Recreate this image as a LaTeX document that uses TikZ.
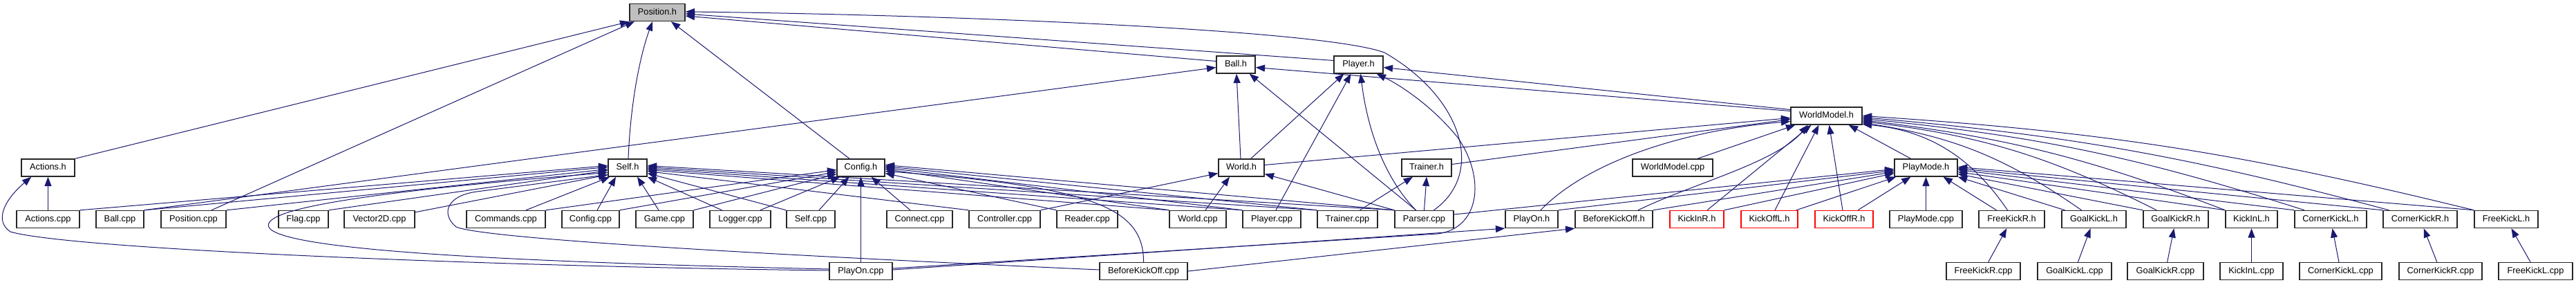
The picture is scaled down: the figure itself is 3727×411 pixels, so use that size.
\documentclass[tikz,border=0pt]{standalone}
\usepackage{fontspec}
\setmainfont{Liberation Sans}
\usetikzlibrary{arrows.meta,calc}
\definecolor{edgec}{HTML}{191970}
\definecolor{posgray}{HTML}{BFBFBF}
\definecolor{boxline}{HTML}{262626}
\begin{document}
\begin{tikzpicture}[x=0.75pt,y=-0.75pt,
  nb/.style={draw=boxline, line width=1.05pt, fill=white, minimum height=18.75pt, inner sep=0pt,
    font=\fontsize{9.6pt}{11pt}\selectfont, text height=7pt, text depth=2pt},
  rn/.style={nb, draw=red},
  bw/.style={minimum width=#1*0.75pt},
  e/.style={draw=edgec, line width=0.75pt, -{Triangle[length=10pt,width=7.5pt]}},
]
\path[use as bounding box] (0,0) rectangle (3727,411);

% Row A
\node[nb,bw=80,fill=posgray] (posh) at (951,18) {Position.h};
% Row B
\node[nb,bw=56] (ballh) at (1788,93.5) {Ball.h};
\node[nb,bw=71] (playerh) at (1965.5,93.5) {Player.h};
% Row C
\node[nb,bw=103] (wmh) at (2642.5,167.5) {WorldModel.h};
% Row D
\node[nb,bw=77] (actionsh) at (69.5,242.5) {Actions.h};
\node[nb,bw=56] (selfh) at (908,242.5) {Self.h};
\node[nb,bw=69] (configh) at (1245.5,242.5) {Config.h};
\node[nb,bw=66] (worldh) at (1796,242.5) {World.h};
\node[nb,bw=72] (trainerh) at (2064,242.5) {Trainer.h};
\node[nb,bw=116] (wmcpp) at (2420,242.5) {WorldModel.cpp};
\node[nb,bw=91] (pmh) at (2786.5,242.5) {PlayMode.h};
% Row E
\node[nb,bw=91] (actionscpp) at (69.5,317) {Actions.cpp};
\node[nb,bw=69] (ballcpp) at (173.5,317) {Ball.cpp};
\node[nb,bw=94] (poscpp) at (280,317) {Position.cpp};
\node[nb,bw=72] (flagcpp) at (439,317) {Flag.cpp};
\node[nb,bw=102] (vectorcpp) at (549,317) {Vector2D.cpp};
\node[nb,bw=114] (commandscpp) at (732,317) {Commands.cpp};
\node[nb,bw=83] (configcpp) at (854.5,317) {Config.cpp};
\node[nb,bw=83] (gamecpp) at (961.5,317) {Game.cpp};
\node[nb,bw=88] (loggercpp) at (1071,317) {Logger.cpp};
\node[nb,bw=70] (selfcpp) at (1173,317) {Self.cpp};
\node[nb,bw=95] (connectcpp) at (1330.5,317) {Connect.cpp};
\node[nb,bw=103] (controllercpp) at (1453.5,317) {Controller.cpp};
\node[nb,bw=88] (readercpp) at (1573,317) {Reader.cpp};
\node[nb,bw=82] (worldcpp) at (1733,317) {World.cpp};
\node[nb,bw=84] (playercpp) at (1840,317) {Player.cpp};
\node[nb,bw=87] (trainercpp) at (1949.5,317) {Trainer.cpp};
\node[nb,bw=85] (parsercpp) at (2060.5,317) {Parser.cpp};
\node[nb,bw=76] (playonh) at (2216,317) {PlayOn.h};
\node[nb,bw=112] (bkoh) at (2335,317) {BeforeKickOff.h};
\node[rn,bw=78] (kickinrh) at (2455,317) {KickInR.h};
\node[rn,bw=82] (kickofflh) at (2560,317) {KickOffL.h};
\node[rn,bw=84] (kickoffrh) at (2668,317) {KickOffR.h};
\node[nb,bw=105] (pmcpp) at (2786.5,317) {PlayMode.cpp};
\node[nb,bw=95] (fkrh) at (2910.5,317) {FreeKickR.h};
\node[nb,bw=93] (gklh) at (3029.5,317) {GoalKickL.h};
\node[nb,bw=94] (gkrh) at (3148,317) {GoalKickR.h};
\node[nb,bw=75] (kickinlh) at (3257.5,317) {KickInL.h};
\node[nb,bw=104] (cklh) at (3372,317) {CornerKickL.h};
\node[nb,bw=107] (ckrh) at (3501.5,317) {CornerKickR.h};
\node[nb,bw=92] (fklh) at (3626,317) {FreeKickL.h};
% Row F
\node[nb,bw=91] (playoncpp) at (1245.5,392) {PlayOn.cpp};
\node[nb,bw=127] (bkocpp) at (1654.5,392) {BeforeKickOff.cpp};
\node[nb,bw=107] (fkrcpp) at (2869.5,392) {FreeKickR.cpp};
\node[nb,bw=107] (gklcpp) at (3001.5,392) {GoalKickL.cpp};
\node[nb,bw=110] (gkrcpp) at (3133,392) {GoalKickR.cpp};
\node[nb,bw=91] (kickinlcpp) at (3257.5,392) {KickInL.cpp};
\node[nb,bw=119] (cklcpp) at (3386.5,392) {CornerKickL.cpp};
\node[nb,bw=120] (ckrcpp) at (3531,392) {CornerKickR.cpp};
\node[nb,bw=107] (fklcpp) at (3668.5,392) {FreeKickL.cpp};

% ---- into Position.h
\draw[e] (actionsh.north east) -- (posh.south west);
\draw[e] ($(poscpp.north)+(26,0)$) -- ($(posh.south)+(-33,0)$);
\draw[e] ($(selfh.north)+(1,0)$) .. controls (912,150) and (926,80) .. ($(posh.south)+(-7,0)$);
\draw[e] ($(configh.north)+(-16.5,0)$) -- ($(posh.south)+(20,0)$);
\draw[e] ($(ballh.west)+(0,-5)$) -- ($(posh.east)+(0,5)$);
\draw[e] ($(playerh.west)+(0,-6)$) -- ($(posh.east)+(0,2)$);
\draw[e] ($(parsercpp.north)+(14,0)$) .. controls (2150,250) and (2115,140) .. (2003,76) .. controls (1905,40) and (1300,20) .. ($(posh.east)+(0,-1)$);

% ---- into Ball.h
\draw[e] (ballcpp.north east) -- ($(ballh.west)+(0,4)$);
\draw[e] ($(worldh.north)+(-1,0)$) -- ($(ballh.south)+(1,0)$);
\draw[e] ($(parsercpp.north)+(-12,0)$) -- ($(ballh.south east)+(-9,0)$);
\draw[e] ($(wmh.west)+(0,-7)$) -- ($(ballh.east)+(0,4)$);

% ---- into Player.h
\draw[e] ($(wmh.west)+(0,-9)$) -- ($(playerh.east)+(0,4)$);
\draw[e] ($(worldh.north east)+(-20,0)$) -- ($(playerh.south)+(-21,0)$);
\draw[e] ($(playercpp.north)+(6,0)$) -- ($(playerh.south)+(-11,0)$);
\draw[e] ($(parsercpp.north)+(-12,0)$) .. controls (2010,265) and (1980,200) .. ($(playerh.south)+(3,0)$);
\draw[e] ($(playoncpp.east)+(0,-4)$) -- (2080,338) .. controls (2140,330) and (2150,260) .. (2110,200) .. controls (2070,150) and (2020,120) .. ($(playerh.south east)+(-10,0)$);

% ---- into WorldModel.h
\draw[e] ($(worldh.east)+(0,-4)$) -- ($(wmh.west)+(0,3)$);
\draw[e] ($(trainerh.east)+(0,-5)$) -- ($(wmh.west)+(0,5)$);
\draw[e] ($(playonh.north)+(13,0)$) .. controls (2290,240) and (2420,190) .. ($(wmh.west)+(0,8)$);
\draw[e] ($(wmcpp.north)+(36,0)$) -- ($(wmh.south west)+(7,0)$);
\draw[e] ($(bkoh.north)+(35,0)$) .. controls (2450,265) and (2570,235) .. ($(wmh.south)+(-27,0)$);
\draw[e] ($(kickinrh.north)+(15,0)$) -- ($(wmh.south)+(-22,0)$);
\draw[e] ($(kickofflh.north)+(8,0)$) -- ($(wmh.south)+(-11,0)$);
\draw[e] ($(kickoffrh.north)+(-2,0)$) -- ($(wmh.south)+(4,0)$);
\draw[e] ($(pmh.north)+(-22,0)$) -- ($(wmh.south east)+(-20,0)$);
\draw[e] ($(fkrh.north)+(-6,0)$) to[bend right=25] ($(wmh.east)+(0,12)$);
\draw[e] ($(gklh.north)+(-18,0)$) to[bend right=13] ($(wmh.east)+(0,10)$);
\draw[e] ($(gkrh.north)+(-28,0)$) to[bend right=10] ($(wmh.east)+(0,8)$);
\draw[e] (kickinlh.north west) to[bend right=7] ($(wmh.east)+(0,6)$);
\draw[e] ($(cklh.north)+(-38,0)$) to[bend right=6] ($(wmh.east)+(0,4)$);
\draw[e] ($(ckrh.north)+(-45,0)$) to[bend right=5] ($(wmh.east)+(0,2)$);
\draw[e] (fklh.north west) to[bend right=5] ($(wmh.east)+(0,0)$);

% ---- into PlayMode.h
\draw[e] ($(parsercpp.east)+(0,-7)$) -- ($(pmh.west)+(0,2)$);
\draw[e] (playonh.north east) -- ($(pmh.west)+(0,4)$);
\draw[e] (bkoh.north east) -- ($(pmh.west)+(0,6)$);
\draw[e] (kickinrh.north east) -- ($(pmh.west)+(0,8)$);
\draw[e] ($(kickofflh.north east)+(-3,0)$) -- ($(pmh.south west)+(3,0)$);
\draw[e] ($(kickoffrh.north)+(20,0)$) -- ($(pmh.south)+(-22,0)$);
\draw[e] (pmcpp) -- (pmh);
\draw[e] ($(fkrh.north)+(-22,0)$) -- ($(pmh.south)+(25,0)$);
\draw[e] ($(gklh.north)+(-42,0)$) -- (pmh.south east);
\draw[e] (gkrh.north west) -- ($(pmh.east)+(0,9)$);
\draw[e] (kickinlh.north west) -- ($(pmh.east)+(0,6)$);
\draw[e] (cklh.north west) -- ($(pmh.east)+(0,3)$);
\draw[e] (ckrh.north west) -- ($(pmh.east)+(0,1)$);
\draw[e] (fklh.north west) -- ($(pmh.east)+(0,-1)$);

% ---- Trainer.h, World.h
\draw[e] ($(trainercpp.north)+(18,0)$) -- ($(trainerh.south)+(-20,0)$);
\draw[e] (parsercpp.north) -- (trainerh.south);
\draw[e] (controllercpp.north east) -- ($(worldh.west)+(0,8)$);
\draw[e] ($(worldcpp.north)+(11,0)$) -- ($(worldh.south)+(-17,0)$);
\draw[e] (parsercpp.north west) -- ($(worldh.east)+(0,9)$);

% ---- Actions.h
\draw[e] (actionscpp) -- (actionsh);
\draw[e] ($(playoncpp.west)+(0,-1)$) .. controls (700,385) and (100,360) .. (15,335) .. controls (-8,320) and (5,290) .. ($(actionsh.south west)+(15,0)$);

% ---- Self.h
\draw[e] (actionscpp.north east) -- ($(selfh.west)+(0,-3)$);
\draw[e] (ballcpp.north east) -- ($(selfh.west)+(0,-1)$);
\draw[e] (poscpp.north east) -- ($(selfh.west)+(0,2)$);
\draw[e] (flagcpp.north east) -- ($(selfh.west)+(0,4)$);
\draw[e] ($(vectorcpp.north east)+(0,3)$) -- ($(selfh.south west)+(0,-3)$);
\draw[e] ($(commandscpp.north)+(29,0)$) -- ($(selfh.south west)+(3,0)$);
\draw[e] ($(configcpp.north)+(9.5,0)$) -- ($(selfh.south)+(-17,0)$);
\draw[e] ($(gamecpp.north)+(-8.5,0)$) -- ($(selfh.south)+(14,0)$);
\draw[e] ($(loggercpp.north)+(-26.5,0)$) -- (selfh.south east);
\draw[e] (selfcpp.north west) -- ($(selfh.east)+(0,8)$);
\draw[e] ($(playoncpp.west)+(0,-3)$) .. controls (800,380) and (420,365) .. (390,330) .. controls (372,305) and (500,280) .. ($(selfh.west)+(0,7)$);
\draw[e] ($(bkocpp.west)+(0,-2)$) .. controls (1100,368) and (700,345) .. (660,328) .. controls (638,310) and (645,283) .. (690,277) -- ($(selfh.west)+(0,10)$);
\draw[e] (controllercpp.north west) -- ($(selfh.east)+(0,5)$);
\draw[e] (worldcpp.north west) -- ($(selfh.east)+(0,3)$);
\draw[e] (playercpp.north west) -- ($(selfh.east)+(0,1)$);
\draw[e] (trainercpp.north west) -- ($(selfh.east)+(0,-1)$);
\draw[e] (parsercpp.north west) -- ($(selfh.east)+(0,-3)$);

% ---- Config.h
\draw[e] (commandscpp.north east) -- ($(configh.west)+(0,3)$);
\draw[e] (configcpp.north east) -- ($(configh.west)+(0,6)$);
\draw[e] (gamecpp.north east) -- ($(configh.west)+(0,9)$);
\draw[e] ($(loggercpp.north)+(29,0)$) -- ($(configh.south west)+(5,0)$);
\draw[e] ($(selfcpp.north)+(12,0)$) -- ($(configh.south)+(-17,0)$);
\draw[e] (playoncpp) -- (configh);
\draw[e] ($(connectcpp.north)+(-13.5,0)$) -- ($(configh.south)+(15,0)$);
\draw[e] (readercpp.north west) -- ($(configh.east)+(0,8)$);
\draw[e] (worldcpp.north west) -- ($(configh.east)+(0,2)$);
\draw[e] (playercpp.north west) -- ($(configh.east)+(0,0)$);
\draw[e] (trainercpp.north west) -- ($(configh.east)+(0,-2)$);
\draw[e] (parsercpp.north west) -- ($(configh.east)+(0,-4)$);
\draw[e] (bkocpp.north) .. controls (1655,300) and (1580,270) .. ($(configh.east)+(0,5)$);

% ---- PlayOn.h, BeforeKickOff.h
\draw[e] ($(playoncpp.east)+(0,-2)$) -- (playonh.south west);
\draw[e] (bkocpp.east) -- (bkoh.south west);

% ---- leaves
\draw[e] (fkrcpp) -- (fkrh);
\draw[e] (gklcpp) -- (gklh);
\draw[e] (gkrcpp) -- (gkrh);
\draw[e] (kickinlcpp) -- (kickinlh);
\draw[e] (cklcpp) -- (cklh);
\draw[e] (ckrcpp) -- (ckrh);
\draw[e] (fklcpp) -- (fklh);
\end{tikzpicture}
\end{document}
